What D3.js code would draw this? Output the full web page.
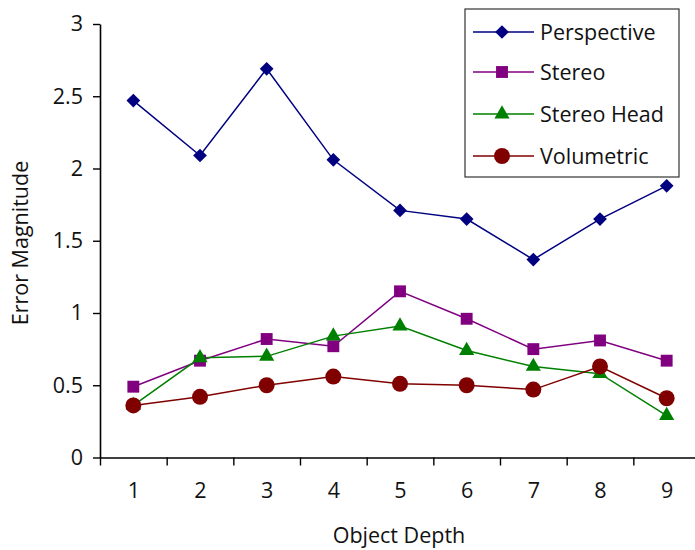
<!DOCTYPE html>
<html>
<head>
<meta charset="utf-8">
<script src="https://cdn.jsdelivr.net/npm/d3@7"></script>
<style>
  html, body { margin: 0; padding: 0; background: #fff; }
  svg { display: block; }
  text { font-family: "Open Sans", "Noto Sans", sans-serif; fill: #111; }
</style>
</head>
<body>
<svg id="chart" width="695" height="550"></svg>
<script>
const depths = [1, 2, 3, 4, 5, 6, 7, 8, 9];
const seriesNames = ["Perspective", "Stereo", "Stereo Head", "Volumetric"];
const perspective = [2.47, 2.09, 2.69, 2.06, 1.71, 1.65, 1.37, 1.65, 1.88];
const stereo      = [0.49, 0.67, 0.82, 0.77, 1.15, 0.96, 0.75, 0.81, 0.67];
const stereoHead  = [0.36, 0.69, 0.70, 0.84, 0.91, 0.74, 0.63, 0.58, 0.29];
const volumetric  = [0.36, 0.42, 0.50, 0.56, 0.51, 0.50, 0.47, 0.63, 0.41];
const yTicks = [0, 0.5, 1, 1.5, 2, 2.5, 3];
const yTickLabels = ["0", "0.5", "1", "1.5", "2", "2.5", "3"];
const xTitle = "Object Depth";
const yTitle = "Error Magnitude";

const colors = ["#000080", "#800080", "#008000", "#800000"];
const symbols = [d3.symbolDiamond2, d3.symbolSquare2, d3.symbolTriangle2, d3.symbolCircle];
const symbolSizes = [120, 180, 165, 200];
const values = [perspective, stereo, stereoHead, volumetric];
const FS = 21.5;

const svg = d3.select("#chart");
const plotLeft = 100, plotRight = 700, plotTop = 24, plotBottom = 457.5;

const x = d3.scaleLinear().domain([0.5, depths.length + 0.5]).range([plotLeft, plotRight]);
const y = d3.scaleLinear().domain([0, 3]).range([plotBottom, plotTop]);

// x axis with boundary ticks
const boundaries = d3.range(0.5, depths.length + 1, 1);
const xAxisG = svg.append("g").attr("transform", `translate(0,${plotBottom})`)
  .call(d3.axisBottom(x).tickValues(boundaries).tickFormat("").tickSize(8).tickSizeOuter(0));
xAxisG.select(".domain").attr("stroke", "#000").attr("stroke-width", 1.6);
xAxisG.selectAll(".tick line").attr("stroke", "#000").attr("stroke-width", 1.4);

// x labels at centers
const xLabelAxis = svg.append("g").attr("transform", `translate(0,${plotBottom})`)
  .call(d3.axisBottom(x).tickValues(depths).tickFormat(d => String(d)).tickSize(0).tickPadding(25));
xLabelAxis.select(".domain").remove();
xLabelAxis.selectAll("text").attr("font-size", FS).attr("fill", "#111")
  .style("font-family", '"Open Sans", "Noto Sans", sans-serif');

// y axis
const yAxisG = svg.append("g").attr("transform", `translate(${plotLeft},0)`)
  .call(d3.axisLeft(y).tickValues(yTicks).tickFormat((d, i) => yTickLabels[i]).tickSize(7).tickSizeOuter(0).tickPadding(10));
yAxisG.select(".domain").attr("stroke", "#000").attr("stroke-width", 1.6);
yAxisG.selectAll(".tick line").attr("stroke", "#000").attr("stroke-width", 1.4);
yAxisG.selectAll("text").attr("font-size", FS).attr("fill", "#111")
  .style("font-family", '"Open Sans", "Noto Sans", sans-serif');

// titles
svg.append("text").attr("x", 399).attr("y", 543).attr("text-anchor", "middle")
  .attr("font-size", FS).text(xTitle);
svg.append("text").attr("transform", "translate(28,243) rotate(-90)").attr("text-anchor", "middle")
  .attr("font-size", FS).text(yTitle);

// series
const line = d3.line().x((d, i) => x(depths[i])).y(d => y(d));
values.forEach((vals, s) => {
  svg.append("path").datum(vals).attr("d", line)
    .attr("fill", "none").attr("stroke", colors[s]).attr("stroke-width", 1.5);
});
values.forEach((vals, s) => {
  const sym = d3.symbol().type(symbols[s]).size(symbolSizes[s]);
  svg.append("g").selectAll("path").data(vals).join("path")
    .attr("d", sym)
    .attr("transform", (d, i) => `translate(${x(depths[i])},${y(d)})`)
    .attr("fill", colors[s]);
});

// legend
const lg = svg.append("g");
lg.append("rect").attr("x", 465).attr("y", 9).attr("width", 214).attr("height", 168)
  .attr("fill", "#fff").attr("stroke", "#333").attr("stroke-width", 1.2);
const rowY = [32, 72, 114, 156];
seriesNames.forEach((name, s) => {
  const ry = rowY[s];
  lg.append("line").attr("x1", 473).attr("x2", 534).attr("y1", ry).attr("y2", ry)
    .attr("stroke", colors[s]).attr("stroke-width", 1.5);
  lg.append("path").attr("d", d3.symbol().type(symbols[s]).size(symbolSizes[s])())
    .attr("transform", `translate(502,${ry})`).attr("fill", colors[s]);
  lg.append("text").attr("x", 540).attr("y", ry + 7.5).attr("font-size", FS).text(name);
});
</script>
</body>
</html>
